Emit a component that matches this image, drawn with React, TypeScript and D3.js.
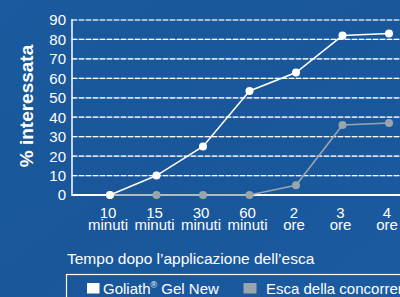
import React from "react";
import * as d3 from "d3";

const categories = ["10 minuti", "15 minuti", "30 minuti", "60 minuti", "2 ore", "3 ore", "4 ore"];
const goliathValues = [0, 10, 25, 53.5, 63, 82, 83];
const competitorValues = [0, 0, 0, 0, 5, 36, 37];
const yTicks = [0, 10, 20, 30, 40, 50, 60, 70, 80, 90];
const seriesNames = ["Goliath", "Esca della concorrenza"];
const yTitle = "% interessata";
const xTitle = "Tempo dopo l\u2019applicazione dell\u2019esca";

const W = 400;
const H = 297;
const FONT = "'Liberation Sans', Arial, Helvetica, sans-serif";
const GRAY = "#98a6ab";

export default function App() {
  const x = d3.scalePoint<string>().domain(categories).range([110, 389]);
  const y = d3.scaleLinear().domain([0, 90]).range([195, 20]);
  const line = d3
    .line<number>()
    .x((_, i) => x(categories[i]) as number)
    .y((d) => y(d));

  const axisX0 = 72;

  return (
    <svg
      width={W}
      height={H}
      style={{ position: "absolute", left: 0, top: 0, display: "block" }}
      fontFamily={FONT}
    >
      <defs>
        <linearGradient id="bg" x1="0" y1="0" x2="1" y2="1">
          <stop offset="0" stopColor="#1b5a9e" />
          <stop offset="0.5" stopColor="#19569a" />
          <stop offset="1" stopColor="#1b5ba0" />
        </linearGradient>
      </defs>
      <rect x={0} y={0} width={W} height={H} fill="url(#bg)" />

      {/* grid lines */}
      {yTicks
        .filter((t) => t > 0)
        .map((t) => (
          <g key={t}>
            <line x1={axisX0} x2={W} y1={y(t)} y2={y(t)} stroke="rgba(255,255,255,0.4)" strokeWidth={1.2} />
            <line
              x1={axisX0}
              x2={W}
              y1={y(t)}
              y2={y(t)}
              stroke="#ffffff"
              strokeWidth={1.2}
              strokeDasharray="5 2"
            />
          </g>
        ))}

      {/* y tick labels */}
      {yTicks.map((t) => (
        <text
          key={"yt" + t}
          x={66}
          y={y(t)}
          dy="0.36em"
          textAnchor="end"
          fontSize={15}
          fill="#ffffff"
        >
          {t}
        </text>
      ))}

      {/* axes */}
      <line x1={axisX0} x2={axisX0} y1={y(90) - 1} y2={y(0) + 1} stroke="#ffffff" strokeWidth={1.5} />
      <line x1={axisX0} x2={W} y1={y(0)} y2={y(0)} stroke="#ffffff" strokeWidth={2} />

      {/* x tick labels */}
      {categories.map((c) => {
        const [a, b] = c.split(" ");
        const cx = (x(c) as number) - 2;
        return (
          <g key={c}>
            <text x={cx} y={217.5} textAnchor="middle" fontSize={15} fill="#ffffff">
              {a}
            </text>
            <text x={cx} y={230} textAnchor="middle" fontSize={15} fill="#ffffff">
              {b}
            </text>
          </g>
        );
      })}

      {/* competitor series */}
      <path d={line(competitorValues) || ""} fill="none" stroke={GRAY} strokeWidth={1.6} />
      {competitorValues.map((v, i) => (
        <circle key={"c" + i} cx={x(categories[i]) as number} cy={y(v)} r={4} fill={GRAY} />
      ))}

      {/* goliath series */}
      <path d={line(goliathValues) || ""} fill="none" stroke="#ffffff" strokeWidth={1.5} />
      {goliathValues.map((v, i) => (
        <circle key={"g" + i} cx={x(categories[i]) as number} cy={y(v)} r={4} fill="#ffffff" />
      ))}

      {/* axis titles */}
      <text
        transform="translate(33,106) rotate(-90)"
        textAnchor="middle"
        fontSize={19}
        fontWeight="bold"
        fill="#ffffff"
      >
        {yTitle}
      </text>
      <text x={67} y={264} fontSize={15.5} fill="#ffffff">
        {xTitle}
      </text>

      {/* legend */}
      <rect x={66.5} y={274.5} width={400} height={40} fill="none" stroke="#ffffff" strokeWidth={1.2} />
      <rect x={87} y={283} width={12.5} height={10.5} fill="#ffffff" />
      <text x={103} y={293.5} fontSize={15} fill="#ffffff">
        {seriesNames[0]}
        <tspan fontSize={9} dy={-6}>
          ®
        </tspan>
        <tspan dy={6}> Gel New</tspan>
      </text>
      <rect x={243.5} y={283} width={13} height={10.5} fill={GRAY} />
      <text x={266} y={293.5} fontSize={15} fill="#ffffff">
        {seriesNames[1]}
      </text>
    </svg>
  );
}
